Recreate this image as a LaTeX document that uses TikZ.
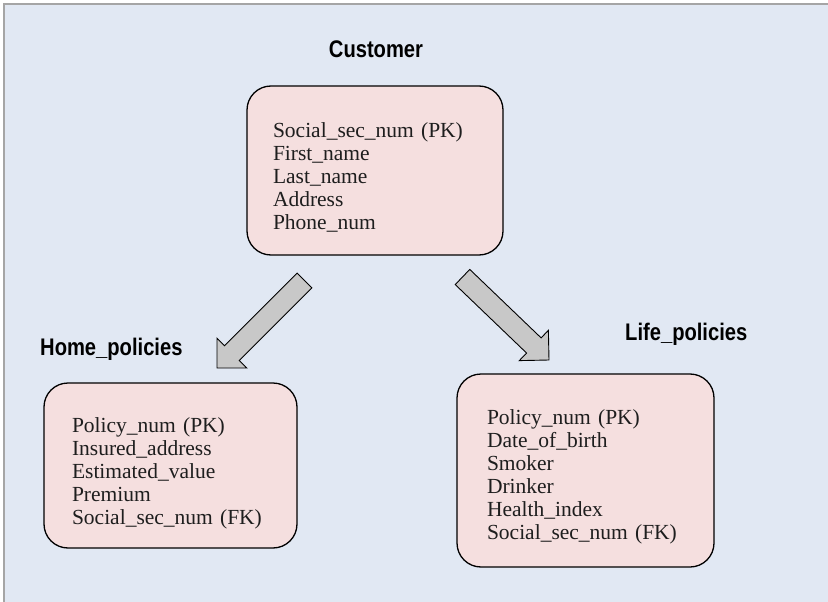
\documentclass[tikz,border=0pt]{standalone}
\usepackage{fontspec}
\usepackage{tikz}
\usetikzlibrary{calc}

\setmainfont{Liberation Serif}
\newfontfamily\titlefont[FakeStretch=0.84]{Liberation Sans}

\definecolor{paneblue}{RGB}{225,232,243}
\definecolor{boxpink}{RGB}{245,223,223}
\definecolor{arrowgray}{RGB}{200,200,200}
\definecolor{framegray}{RGB}{165,165,165}
\definecolor{inkgray}{RGB}{30,30,30}

\tikzset{
    tablebox/.style={draw=black, line width=1.3pt, fill=boxpink, rounded corners=24pt,
        align=left, inner xsep=#1, inner ysep=0pt, text=inkgray,
        font=\fontsize{21.5}{23}\selectfont},
    tabletitle/.style={anchor=base west, inner sep=0pt, text=black,
        font=\titlefont\bfseries\fontsize{24}{28}\selectfont},
    arrowbody/.style={draw=black, line width=0.9pt, fill=arrowgray, line join=miter}
}

% Extra room above the first row of a table
\newcommand{\toprow}[1]{\rule{0pt}{#1}}

% Block arrow from a tail coordinate to a tip coordinate
\newcommand{\blockarrow}[2]{%
    \coordinate (#1base) at ($(#2)!21pt!(#1)$);
    \draw[arrowbody] ($(#1)!10.5pt!90:(#2)$) -- ($(#1base)!10.5pt!90:(#2)$)
        -- ($(#1base)!21pt!90:(#2)$) -- (#2)
        -- ($(#1base)!21pt!-90:(#2)$) -- ($(#1base)!10.5pt!-90:(#2)$)
        -- ($(#1)!10.5pt!-90:(#2)$) -- cycle;
}

\begin{document}
\begin{tikzpicture}[x=1pt, y=-1pt]
    \useasboundingbox (0,0) rectangle (828,602);

    % Background pane with its frame on top and left
    \fill[paneblue] (4,4) rectangle (828,602);
    \draw[framegray, line width=1.2pt] (4,602) -- (4,4) -- (828,4);

    % Tables
    \node[tablebox=26pt, text width=204pt, minimum height=169pt] (customer) at (375,170.5)
        {\toprow{28pt}Social\_sec\_num (PK)\\First\_name\\Last\_name\\Address\\Phone\_num};
    \node[tablebox=28pt, text width=197pt, minimum height=165pt] (home) at (170.5,465.5)
        {\toprow{30pt}Policy\_num (PK)\\Insured\_address\\Estimated\_value\\Premium\\Social\_sec\_num (FK)};
    \node[tablebox=30pt, text width=197pt, minimum height=193pt] (life) at (585.5,470.5)
        {\toprow{28pt}Policy\_num (PK)\\Date\_of\_birth\\Smoker\\Drinker\\Health\_index\\Social\_sec\_num (FK)};

    % Table names
    \node[tabletitle, anchor=base] (customerTitle) at (376,58) {Customer};
    \node[tabletitle] (homeTitle) at (40,355) {Home\_policies};
    \node[tabletitle] (lifeTitle) at (625,340) {Life\_policies};

    % Relationship arrows
    \coordinate (homeTail) at (304.5,280.5);
    \coordinate (homeTip) at (217,368);
    \coordinate (lifeTail) at (462.5,277);
    \coordinate (lifeTip) at (549,360);
    \blockarrow{homeTail}{homeTip}
    \blockarrow{lifeTail}{lifeTip}

\end{tikzpicture}
\end{document}
